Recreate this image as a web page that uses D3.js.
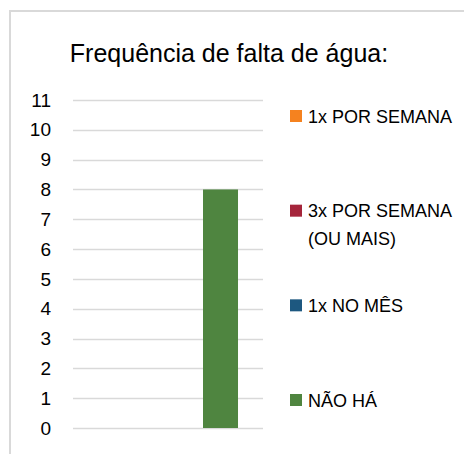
<!DOCTYPE html>
<html>
<script src="https://d3js.org/d3.v7.min.js"></script>

<head>
    <style>
        body {
            margin: 0;
            background-color: #fff;
        }

        svg {
            display: block;
            font-family: "Liberation Sans", Arial, sans-serif;
        }
    </style>
</head>

<body>
</body>
<script>
    const width = 464,
        height = 454;

    const title = "Frequência de falta de água:";
    const categories = [""];
    const seriesNames = ["1x POR SEMANA", "3x POR SEMANA (OU MAIS)", "1x NO MÊS", "NÃO HÁ"];
    const seriesColors = ["#f5821f", "#a5253b", "#1d5880", "#4f8540"];
    const seriesValues = [0, 0, 0, 8];
    const yTicks = [0, 1, 2, 3, 4, 5, 6, 7, 8, 9, 10, 11];

    const svg = d3.select("body").append("svg").attr("width", width).attr("height", height);

    // chart frame (runs past the right and bottom edges)
    svg.append("rect")
        .attr("x", 10)
        .attr("y", 11)
        .attr("width", 470)
        .attr("height", 460)
        .attr("fill", "white")
        .attr("stroke", "#d9d9d9")
        .attr("stroke-width", 2);

    svg.append("text")
        .attr("x", 229)
        .attr("y", 62)
        .attr("text-anchor", "middle")
        .attr("font-size", 25)
        .attr("fill", "#000")
        .text(title);

    const y = d3.scaleLinear().domain([0, 11]).range([428, 100]);
    const x0 = d3.scaleBand().domain(categories).range([73, 263]);
    const x1 = d3.scaleBand().domain(seriesNames).range([0, x0.bandwidth()]).paddingOuter(0.714);

    // gridlines
    svg.append("g")
        .selectAll("line")
        .data(yTicks)
        .join("line")
        .attr("x1", 73)
        .attr("x2", 263)
        .attr("y1", d => Math.round(y(d)) + 0.5)
        .attr("y2", d => Math.round(y(d)) + 0.5)
        .attr("stroke", "#d9d9d9")
        .attr("stroke-width", 1.5);

    // y axis labels
    const yAxis = svg.append("g")
        .attr("transform", "translate(51,0)")
        .call(d3.axisLeft(y).tickValues(yTicks).tickSize(0).tickPadding(0));
    yAxis.select(".domain").remove();
    yAxis.selectAll("text")
        .attr("font-family", "Liberation Sans, Arial, sans-serif")
        .attr("font-size", 19)
        .attr("fill", "#000");

    // bars
    const rows = seriesNames.map((name, i) => ({ name: name, value: seriesValues[i], color: seriesColors[i], cat: categories[0] }));
    svg.append("g")
        .selectAll("rect")
        .data(rows)
        .join("rect")
        .attr("x", d => x0(d.cat) + x1(d.name))
        .attr("width", x1.bandwidth())
        .attr("y", d => y(d.value))
        .attr("height", d => y(0) - y(d.value))
        .attr("fill", d => d.color);

    // legend
    const ly = d3.scalePoint().domain(seriesNames).range([116, 400]);
    const legend = svg.append("g")
        .selectAll("g")
        .data(rows)
        .join("g")
        .attr("transform", d => `translate(290,${ly(d.name)})`);
    legend.append("rect")
        .attr("x", 0)
        .attr("y", -6)
        .attr("width", 12)
        .attr("height", 12)
        .attr("fill", d => d.color);
    legend.append("text")
        .attr("x", 18)
        .attr("y", 6.5)
        .attr("font-size", 18)
        .attr("fill", "#000")
        .each(function (d) {
            const parts = d.name.split(" (");
            const t = d3.select(this);
            parts.forEach((p, i) => {
                t.append("tspan")
                    .attr("x", 18)
                    .attr("dy", i == 0 ? 0 : 28)
                    .text(i == 0 ? p : "(" + p);
            });
        });
</script>

</html>
